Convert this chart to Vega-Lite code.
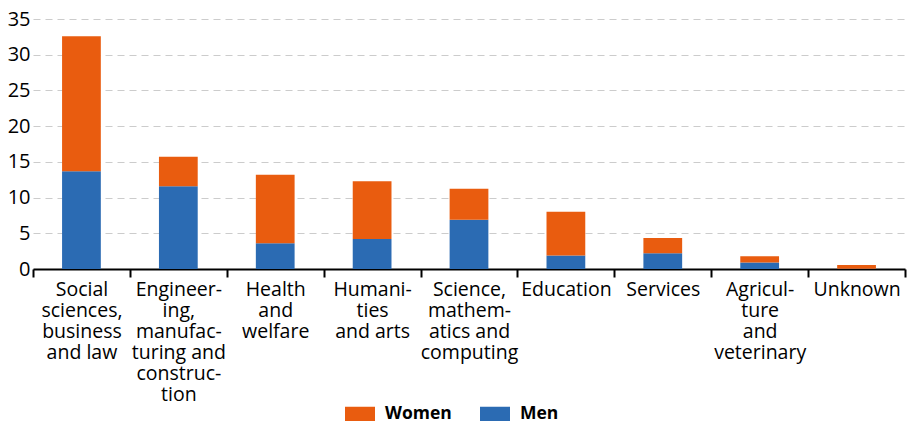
{
  "$schema": "https://vega.github.io/schema/vega-lite/v6.json",
  "width": 872,
  "height": 250,
  "autosize": "none",
  "padding": {"left": 33, "top": 19, "right": 3, "bottom": 152},
  "config": {
    "view": {"stroke": null},
    "font": "Open Sans",
    "axis": {"labelFont": "Open Sans", "labelColor": "#000"}
  },
  "data": {
    "values": [
      {"field": "Social sciences, business and law", "sex": "Men", "value": 13.7},
      {"field": "Social sciences, business and law", "sex": "Women", "value": 18.9},
      {"field": "Engineering, manufacturing and construction", "sex": "Men", "value": 11.6},
      {"field": "Engineering, manufacturing and construction", "sex": "Women", "value": 4.1},
      {"field": "Health and welfare", "sex": "Men", "value": 3.6},
      {"field": "Health and welfare", "sex": "Women", "value": 9.6},
      {"field": "Humanities and arts", "sex": "Men", "value": 4.2},
      {"field": "Humanities and arts", "sex": "Women", "value": 8.1},
      {"field": "Science, mathematics and computing", "sex": "Men", "value": 6.9},
      {"field": "Science, mathematics and computing", "sex": "Women", "value": 4.35},
      {"field": "Education", "sex": "Men", "value": 1.9},
      {"field": "Education", "sex": "Women", "value": 6.1},
      {"field": "Services", "sex": "Men", "value": 2.2},
      {"field": "Services", "sex": "Women", "value": 2.15},
      {"field": "Agriculture and veterinary", "sex": "Men", "value": 0.9},
      {"field": "Agriculture and veterinary", "sex": "Women", "value": 0.9},
      {"field": "Unknown", "sex": "Men", "value": 0.05},
      {"field": "Unknown", "sex": "Women", "value": 0.5}
    ]
  },
  "mark": {"type": "bar", "width": {"band": 0.4}},
  "encoding": {
    "x": {
      "field": "field",
      "type": "nominal",
      "sort": null,
      "title": null,
      "scale": {"paddingInner": 0, "paddingOuter": 0},
      "axis": {
        "labelAngle": 0,
        "labelFontSize": 19.5,
        "labelLineHeight": 21,
        "labelBaseline": "top",
        "labelPadding": 3,
        "labelOverlap": false,
        "labelLimit": 0,
        "tickBand": "extent",
        "tickSize": 8,
        "tickWidth": 2,
        "tickColor": "#000",
        "domainColor": "#000",
        "domainWidth": 2,
        "labelExpr": "({'Social sciences, business and law': ['Social','sciences,','business','and law'], 'Engineering, manufacturing and construction': ['Engineer-','ing,','manufac-','turing and','construc-','tion'], 'Health and welfare': ['Health','and','welfare'], 'Humanities and arts': ['Humani-','ties','and arts'], 'Science, mathematics and computing': ['Science,','mathem-','atics and','computing'], 'Education': 'Education', 'Services': 'Services', 'Agriculture and veterinary': ['Agricul-','ture','and','veterinary'], 'Unknown': 'Unknown'})[datum.label]"
      }
    },
    "y": {
      "field": "value",
      "type": "quantitative",
      "title": null,
      "scale": {"domain": [0, 35]},
      "axis": {
        "values": [0, 5, 10, 15, 20, 25, 30, 35],
        "domain": false,
        "ticks": false,
        "labelFontSize": 20,
        "labelPadding": 3,
        "gridColor": "#cccccc",
        "gridDash": [7, 5],
        "gridWidth": 1.2
      }
    },
    "color": {
      "field": "sex",
      "type": "nominal",
      "scale": {"domain": ["Women", "Men"], "range": ["#E95C0F", "#2B6BB3"]},
      "legend": {
        "title": null,
        "orient": "none",
        "direction": "horizontal",
        "legendX": 312,
        "legendY": 380,
        "symbolType": "M-1,-0.5h2v1h-2z",
        "symbolSize": 900,
        "symbolStrokeWidth": 0,
        "symbolOpacity": 1,
        "labelFontSize": 17.5,
        "labelFontWeight": "bold",
        "labelColor": "#000",
        "labelOffset": 10,
        "columnPadding": 28
      }
    },
    "order": {"field": "sex", "sort": "ascending"}
  }
}
